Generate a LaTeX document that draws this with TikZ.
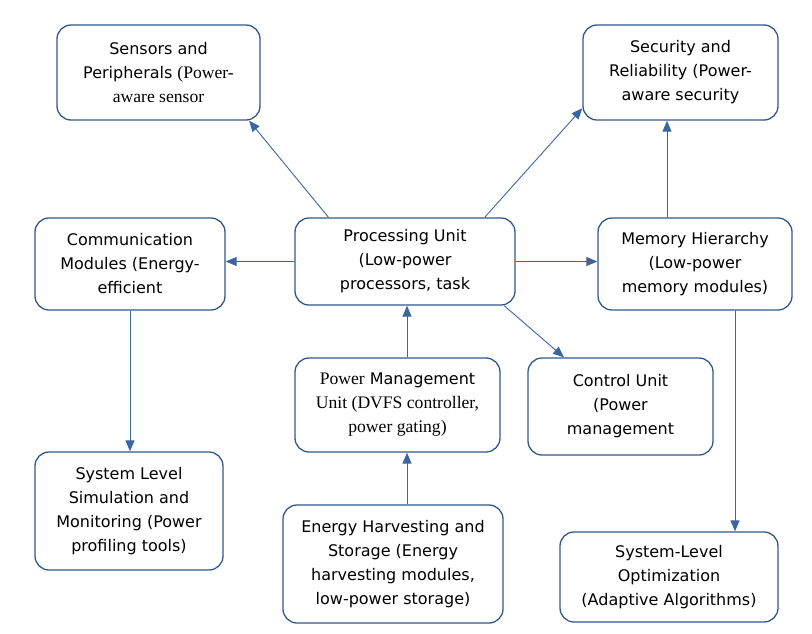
\documentclass[tikz,border=0pt]{standalone}
\usepackage{fontspec}
\setmainfont{DejaVu Sans}
\newfontfamily\serifpart[Scale=1.1]{Liberation Serif}
\usepackage{tikz}
\usetikzlibrary{arrows.meta,positioning}
\usepackage{xcolor}
\definecolor{boxblue}{RGB}{50,88,138}
\definecolor{arrowblue}{RGB}{60,102,160}
\tikzset{
  unit/.style={rectangle, rounded corners=14pt, draw=boxblue, line width=1.3pt, fill=white,
               align=center, font=\fontsize{16}{24}\selectfont, inner sep=2pt},
  arrow/.style={-{Triangle[length=11pt,width=9pt]}, line width=0.9pt, arrowblue},
}

\begin{document}
\begin{tikzpicture}[x=1pt, y=-1pt]
\useasboundingbox (0,0) rectangle (812,633);
\node[unit, minimum width=203pt, minimum height=95pt] (sensors) at (158.5,72.5)
  {Sensors and\\ Peripherals {\serifpart (Power-}\\ {\serifpart aware sensor}};
\node[unit, minimum width=195pt, minimum height=95pt] (security) at (680.5,72.5)
  {Security and\\ Reliability (Power-\\ aware security};
\node[unit, minimum width=190pt, minimum height=92pt] (comm) at (130,264)
  {Communication\\ Modules (Energy-\\ efficient};
\node[unit, minimum width=220pt, minimum height=87pt] (proc) at (405,261.5)
  {Processing Unit\\ (Low-power\\ processors, task};
\node[unit, minimum width=194pt, minimum height=92pt] (mem) at (695,264)
  {Memory Hierarchy\\ (Low-power\\ memory modules)};
\node[unit, minimum width=205pt, minimum height=94pt] (pmu) at (397.5,405)
  {{\serifpart Power} Management\\ {\serifpart Unit (DVFS controller,}\\ {\serifpart power gating)}};
\node[unit, minimum width=185pt, minimum height=97pt] (ctrl) at (620.5,406.5)
  {Control Unit\\ (Power\\ management};
\node[unit, minimum width=188pt, minimum height=118pt] (sim) at (129,511)
  {System Level\\ Simulation and\\ Monitoring (Power\\ profiling tools)};
\node[unit, minimum width=220pt, minimum height=118pt] (energy) at (393,564)
  {Energy Harvesting and\\ Storage (Energy\\ harvesting modules,\\ low-power storage)};
\node[unit, minimum width=218pt, minimum height=90pt] (opt) at (669,577)
  {System-Level\\ Optimization\\ (Adaptive Algorithms)};

% vertical connectors off the box centres
\coordinate (memup) at ([xshift=-28pt]mem.north);
\coordinate (memdown) at ([xshift=40pt]mem.south);
\coordinate (pmuup) at ([xshift=9.5pt]pmu.north);
\coordinate (enup) at ([xshift=14pt]energy.north);

\draw[arrow] (proc.150) -- (sensors.-28);
\draw[arrow] (proc.29) -- (security.200);
\draw[arrow] (memup) -- (memup |- security.south);
\draw[arrow] (proc.west) -- (proc.west -| comm.east);
\draw[arrow] (proc.east) -- (proc.east -| mem.west);
\draw[arrow] (pmuup) -- (pmuup |- proc.south);
\draw[arrow] (proc.-24) -- (ctrl.139);
\draw[arrow] (comm.south) -- (comm.south |- sim.north);
\draw[arrow] (enup) -- (enup |- pmu.south);
\draw[arrow] (memdown) -- (memdown |- opt.north);
\end{tikzpicture}
\end{document}
